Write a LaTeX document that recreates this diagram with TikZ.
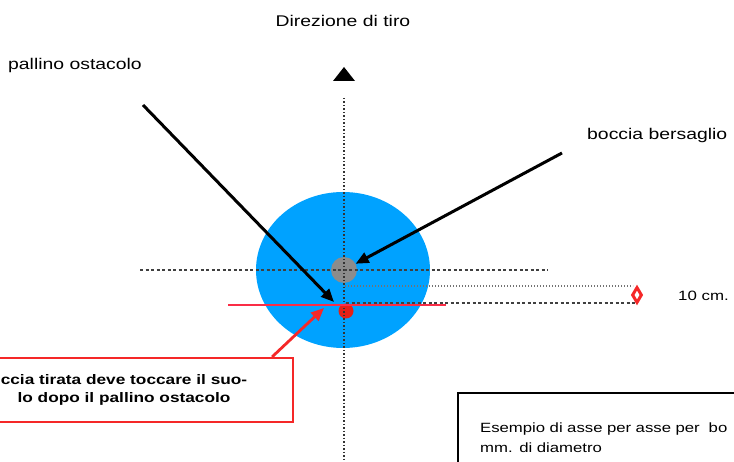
\documentclass[tikz,border=0pt]{standalone}
\usepackage{fontspec}
\setmainfont[FakeStretch=1.25]{Liberation Sans}
\usetikzlibrary{arrows.meta,shapes.geometric}
\definecolor{campo}{RGB}{0,162,255}
\definecolor{grigiob}{RGB}{140,140,140}
\definecolor{rossolinea}{RGB}{250,45,70}
\definecolor{rossopallino}{RGB}{228,32,22}
\definecolor{rossonota}{RGB}{245,40,40}
\tikzset{
  etichetta/.style={font=\fontsize{15.5}{18}\selectfont, inner sep=0pt},
  asse/.style={line width=1.8pt, black!80, dash pattern=on 1.5pt off 2pt},
  riferimento/.style={line width=1.6pt, black!75, dash pattern=on 3pt off 2.5pt},
  freccianera/.style={line width=3pt, -{Triangle[length=13pt,width=11pt]}},
}

\begin{document}
\begin{tikzpicture}[x=1pt,y=-1pt]
\path[use as bounding box, clip] (0,0) rectangle (734,462);

%campo di gioco
\fill[campo] (343,270) ellipse (87 and 78);
\node[circle, fill=grigiob, minimum size=26pt, inner sep=0pt] (bersaglio) at (344,270) {};
\node[circle, fill=rossopallino, minimum size=15pt, inner sep=0pt] (pallino) at (346,311) {};

%assi
\draw[asse] (344,98) -- (344,470);
\fill (344,67) -- (355,81) -- (333,81) -- cycle;
\draw[riferimento] (140,270) -- (548,270);
\draw[line width=1.5pt, black!55, dash pattern=on 1pt off 2pt] (345,286) -- (633,286);
\draw[riferimento] (346,303) -- (637,303);
\draw[rossolinea, line width=2.6pt] (228,305) -- (446,305);

%misura
\node[diamond, draw=rossonota, fill=white, line width=3pt, minimum width=10pt, minimum height=16pt, inner sep=0pt] (misura) at (637,295) {};

% Text Node
\node[etichetta] (direzione) at (343,21) {Direzione di tiro};
\node[etichetta, anchor=west] (ostacolo) at (8,65) {pallino ostacolo};
\node[etichetta, anchor=west] (bocciabersaglio) at (587,135) {boccia bersaglio};
\node[etichetta, anchor=west, font=\fontsize{13.5}{16}\selectfont] (dieci) at (678,296) {10 cm.};

\node[draw=rossonota, line width=2.2pt, minimum width=338pt, minimum height=64pt, align=center,
  font=\bfseries\fontsize{13.8}{18}\selectfont] (nota) at (124,390)
  {ccia tirata deve toccare il suo-\\lo dopo il pallino ostacolo};
\node[draw, line width=2.2pt, minimum width=300pt, minimum height=90pt, anchor=north west, align=left,
  text width=270pt, inner xsep=22pt, inner ysep=18pt, font=\fontsize{13.4}{20}\selectfont] (esempio) at (457,392)
  {Esempio di asse per asse per\ \ bo\\mm. di diametro};

%frecce
\coordinate (inizioostacolo) at (143,105);
\coordinate (puntoostacolo) at (334,302);
\coordinate (iniziobersaglio) at (562,153);
\coordinate (contatto) at (324,308);
\draw[freccianera] (inizioostacolo) -- (puntoostacolo);
\draw[freccianera] (iniziobersaglio) -- (bersaglio);
\draw[rossonota, line width=2.8pt, -{Triangle[length=13pt,width=11pt]}] ([xshift=-22pt]nota.north east) -- (contatto);

\end{tikzpicture}
\end{document}
